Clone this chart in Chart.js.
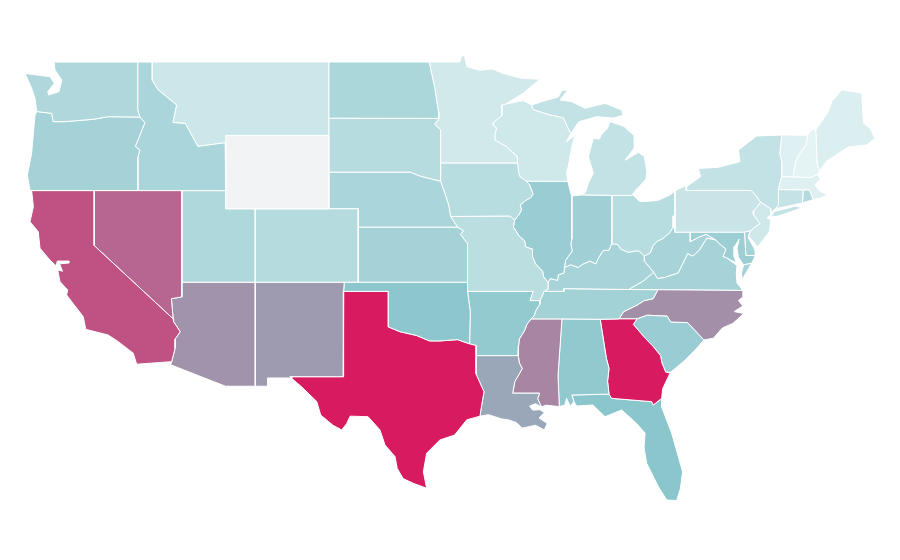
<!DOCTYPE html>
<html>
<head>
<meta charset="utf-8">
<style>html,body{margin:0;padding:0;background:#fff}canvas{display:block}</style>
<script src="https://cdn.jsdelivr.net/npm/chart.js@4/dist/chart.umd.min.js"></script>
</head>
<body>
<canvas id="map" width="900" height="560"></canvas>
<script>
// Shaded value per state (0 = lightest, 100 = deepest)
const stateNames = ["Washington","Oregon","California","Nevada","Idaho","Montana","Wyoming","Utah","Arizona","Colorado","New Mexico","North Dakota","South Dakota","Nebraska","Kansas","Oklahoma","Texas","Minnesota","Iowa","Missouri","Arkansas","Louisiana","Wisconsin","Illinois","Michigan","Indiana","Ohio","Kentucky","Tennessee","Mississippi","Alabama","Georgia","Florida","South Carolina","North Carolina","Virginia","West Virginia","Maryland","Delaware","Pennsylvania","New Jersey","New York","Connecticut","Rhode Island","Massachusetts","Vermont","New Hampshire","Maine"];
const stateValues = [32,38,84,78,35,18,0,32.5,65,29,62.6,34.5,28.6,35,37.9,49,100,15.5,28,26.7,46,59,17,42.7,22.8,39.8,28,36,38.8,69,47,100,50,42.7,66,36.9,35.9,41.7,37,20.4,17,22.8,21.8,30,8.7,8.7,6.3,10.7];

const rev = a => [...a].reverse();

// Shared borders as [longitude, latitude]
const wiMn = [[-92.02,46.71],[-92.29,46.66],[-92.29,46.07],[-92.87,45.7],[-92.88,45.57],[-92.65,45.4],[-92.76,45.0],[-92.75,44.74],[-92.0,44.4],[-91.25,43.85],[-91.22,43.5]];
const iaWi = [[-91.22,43.5],[-91.15,43.0],[-91.06,42.75],[-90.64,42.51]];
const iaIl = [[-90.64,42.51],[-90.42,42.33],[-90.16,41.8],[-90.34,41.6],[-90.66,41.46],[-91.05,41.2],[-90.95,40.95],[-91.1,40.7],[-91.42,40.38]];
const moIl = [[-91.42,40.38],[-91.5,40.0],[-91.1,39.5],[-90.73,39.25],[-90.68,38.93],[-90.2,38.8],[-90.2,38.4],[-90.0,38.0],[-89.52,37.6],[-89.45,37.3],[-89.15,36.98]];
const moTn = [[-89.15,36.98],[-89.2,36.6],[-89.42,36.5],[-89.55,36.25],[-89.7,36.0]];
const arTn = [[-89.7,36.0],[-89.7,35.8],[-89.95,35.5],[-90.1,35.15],[-90.3,35.0]];
const arMs = [[-90.3,35.0],[-90.58,34.7],[-90.75,34.35],[-91.1,33.9],[-91.15,33.5],[-91.17,33.0]];
const laMs = [[-91.17,33.0],[-91.1,32.6],[-90.9,32.3],[-91.1,32.0],[-91.4,31.6],[-91.55,30.95],[-89.73,30.95],[-89.85,30.65],[-89.6,30.2]];
const ilKy = [[-89.15,36.98],[-89.0,37.2],[-88.5,37.1],[-88.45,37.4],[-88.07,37.5],[-88.03,37.8]];
const inKy = [[-88.03,37.8],[-87.6,37.95],[-87.1,37.8],[-86.8,37.98],[-86.3,38.15],[-85.9,38.0],[-85.75,38.27],[-85.42,38.72],[-85.0,38.75],[-84.82,39.1]];
const ohKy = [[-84.82,39.1],[-84.4,39.05],[-84.2,38.8],[-83.7,38.63],[-83.0,38.72],[-82.6,38.42]];
const ohWv = [[-82.6,38.42],[-82.2,38.6],[-82.0,39.0],[-81.7,39.25],[-81.4,39.35],[-80.87,39.7],[-80.65,40.0],[-80.6,40.62],[-80.52,40.64]];
const kyWv = [[-82.6,38.42],[-82.6,38.15],[-81.97,37.54]];
const kyVa = [[-81.97,37.54],[-82.7,37.05],[-83.68,36.6]];
const ilIn = [[-87.53,41.7],[-87.53,39.35],[-87.6,39.1],[-87.5,38.7],[-87.95,38.2],[-88.03,37.8]];
const vaWv = [[-77.75,39.3],[-78.35,39.4],[-78.85,38.75],[-79.3,38.42],[-79.65,38.55],[-80.3,37.5],[-81.25,37.25],[-81.7,37.2],[-81.97,37.54]];
const mdVa = [[-76.95,38.3],[-77.25,38.4],[-77.05,38.8],[-77.5,39.1],[-77.75,39.3]];
const tnNc = [[-81.68,36.59],[-82.0,36.1],[-82.6,36.0],[-83.1,35.75],[-84.0,35.4],[-84.32,35.0]];
const ncSc = [[-83.1,35.0],[-82.4,35.2],[-81.05,35.15],[-80.8,34.82],[-79.67,34.8],[-78.55,33.85]];
const gaSc = [[-81.15,32.1],[-81.4,32.6],[-81.5,33.0],[-82.0,33.5],[-82.6,34.0],[-83.35,34.7],[-83.1,35.0]];
const alGa = [[-85.6,34.98],[-85.18,32.85],[-85.0,32.3],[-85.1,31.6],[-85.0,30.9]];
const okTx = [[-100,34.56],[-99.2,34.3],[-98.1,34.1],[-97.2,33.8],[-96.5,33.8],[-95.3,33.87],[-94.48,33.64]];
const laTx = [[-94.04,33.0],[-94.04,32.0],[-93.5,31.03],[-93.7,30.1],[-93.77,29.7]];
const idMt = [[-116.05,49],[-116.05,48.0],[-115.67,47.5],[-114.4,46.66],[-114.65,45.7],[-113.8,45.65],[-112.95,44.4],[-111.1,44.6],[-111.05,44.5]];
const idOr = [[-116.9,46.0],[-116.55,45.7],[-117.2,44.4],[-116.9,44.2],[-117.03,43.8],[-117.03,42]];
const orWa = [[-124.02,46.1],[-123.9,46.3],[-122.89,46.2],[-122.78,45.75],[-121.98,45.75],[-120.06,45.88],[-119.04,46.02],[-116.9,46.0]];
const azCa = [[-114.63,35],[-114.6,34.85],[-114.15,34.3],[-114.5,33.9],[-114.5,33.4],[-114.73,32.67]];
const neIa = [[-96.45,42.5],[-96.1,41.7],[-95.9,41.2],[-95.77,40.58]];
const neMo = [[-95.77,40.58],[-95.3,40.0]];
const ksMo = [[-95.3,40.0],[-94.9,39.8],[-95.1,39.6],[-94.62,39.1],[-94.62,37]];
const nyPa = [[-75.35,42.0],[-75.05,41.75],[-74.7,41.36]];
const paNj = [[-74.7,41.36],[-75.15,40.9],[-75.2,40.7],[-74.75,40.2],[-75.4,39.8]];
const vtNh = [[-71.5,45.01],[-71.6,44.5],[-72.05,44.0],[-72.3,43.6],[-72.45,43.0],[-72.46,42.73]];

// State outlines as [longitude, latitude]
const Washington = [[[-122.73,49],[-122.66,48.56],[-122.2,48.02],[-122.39,47.38],[-123.1,47.2],[-123.15,47.38],[-122.71,47.84],[-123.0,48.2],[-124.7,48.38],[-124.25,47.57],[-124.02,47.02],...orWa.slice(1),[-117.04,46.4],[-117.04,49]]];
const Oregon = [[...orWa,...idOr,[-124.36,42.0],[-124.54,42.84],[-124.25,44.03]]];
const California = [[[-124.25,41.99],[-120,41.99],[-120,39],...azCa,[-117.11,32.53],[-117.34,33.13],[-118.36,33.76],[-119.04,34.12],[-120.57,34.43],[-120.74,35.12],[-121.87,36.3],[-121.8,36.58],[-122.32,37.03],[-122.48,37.66],[-122.15,37.6],[-122.35,38.0],[-121.7,38.05],[-121.7,38.15],[-122.5,38.15],[-122.6,37.9],[-123.0,38.2],[-123.68,38.85],[-123.8,39.75],[-124.36,40.3],[-124.13,41.12]]];
const Nevada = [[[-120,41.99],[-114.04,41.99],[-114.04,36.2],[-114.75,36.1],[-114.63,35],[-120,39]]];
const Idaho = [[[-117.04,49],...idMt,[-111.05,41.99],...rev(idOr),[-117.04,46.4]]];
const Montana = [[...idMt.slice(0,-1),[-111.05,45],[-104.05,45],[-104.05,49]]];
const Wyoming = [[[-111.05,45],[-104.05,45],[-104.05,41],[-111.05,41]]];
const Utah = [[[-114.04,41.99],[-111.05,41.99],[-111.05,41],[-109.05,41],[-109.05,37],[-114.04,37]]];
const Arizona = [[[-114.04,37],[-109.05,37],[-109.05,31.33],[-111.07,31.33],[-114.8,32.5],...rev(azCa),[-114.75,36.1],[-114.04,36.2]]];
const Colorado = [[[-109.05,41],[-102.05,41],[-102.05,37],[-109.05,37]]];
const NewMexico = [[[-109.05,37],[-103.0,37],[-103.04,36.5],[-103.06,31.85],[-106.7,31.85],[-106.5,31.78],[-108.2,31.78],[-108.2,31.33],[-109.05,31.33]]];
const NorthDakota = [[[-104.05,49],[-97.23,49],[-96.85,47.6],[-96.6,46.3],[-96.56,45.93],[-104.05,45.94]]];
const SouthDakota = [[[-104.05,45.94],[-96.56,45.93],[-96.85,45.6],[-96.45,45.3],[-96.45,42.5],[-97.9,42.8],[-98.5,43.0],[-104.05,43.0]]];
const Nebraska = [[[-104.05,43],[-98.5,43],[-97.9,42.8],...neIa,...neMo,[-102.05,40.0],[-102.05,41.0],[-104.05,41.0]]];
const Kansas = [[[-102.05,40],...ksMo,[-102.05,37]]];
const Oklahoma = [[[-103.0,37],[-94.62,37],[-94.62,36.5],[-94.43,35.4],...rev(okTx),[-100,36.5],[-103.04,36.5]]];
const Texas = [[[-103.04,36.5],[-100,36.5],...okTx,[-94.04,33.55],...laTx,[-94.67,29.5],[-95.5,28.67],[-96.5,28.4],[-97.4,27.68],[-97.62,26.67],[-97.4,25.77],[-98.3,26.04],[-99.0,26.3],[-99.4,26.86],[-99.55,27.5],[-100.23,28.13],[-100.57,28.95],[-101.38,29.67],[-102.6,29.7],[-102.83,29.3],[-103.17,28.95],[-103.76,29.2],[-104.6,29.76],[-104.87,30.5],[-105.9,31.3],[-106.7,31.85],[-103.06,31.85]]];
const Minnesota = [[[-97.23,49.0],[-95.15,49.0],[-95.0,49.38],[-94.8,49.3],[-94.67,48.75],[-93.8,48.55],[-92.95,48.62],[-92.2,48.38],[-90.94,48.11],[-89.7,48.06],[-90.84,47.3],...wiMn,[-96.45,43.5],[-96.45,45.3],[-96.85,45.6],[-96.56,45.93],[-96.6,46.3],[-96.85,47.6]]];
const Iowa = [[[-96.45,43.5],...iaWi,...iaIl,[-91.73,40.61],...rev(neIa)]];
const Missouri = [[...neMo,...ksMo,[-94.62,36.5],[-90.15,36.5],[-90.37,36.0],...rev(moTn),...rev(moIl),[-91.73,40.61]]];
const Arkansas = [[[-94.62,36.5],[-90.15,36.5],[-90.37,36.0],...arTn,...arMs,[-94.04,33.0],[-94.04,33.55],[-94.48,33.64],[-94.43,35.4]]];
const Louisiana = [[[-94.04,33.0],...laMs,[-90.0,30.38],[-90.4,30.25],[-90.2,30.03],[-89.7,30.05],[-89.4,29.9],[-89.75,29.6],[-89.2,29.3],[-89.4,28.95],[-90.0,29.2],[-90.9,29.05],[-91.3,29.35],[-91.85,29.5],[-92.3,29.55],[-93.2,29.78],...rev(laTx)]];
const Wisconsin = [[[-92.02,46.71],[-90.84,46.9],[-90.26,46.66],[-90.16,46.4],[-89.1,46.13],[-88.1,45.95],[-87.77,45.35],[-87.6,45.1],[-87.88,44.66],[-87.4,44.95],[-87.2,45.3],[-87.53,44.39],[-87.77,43.3],[-87.9,43.0],[-87.8,42.49],[-90.64,42.51],...rev(iaWi),...rev(wiMn)]];
const Illinois = [[[-90.64,42.51],[-87.8,42.49],[-87.6,41.85],...ilIn,...rev(ilKy),...rev(moIl),...rev(iaIl)]];
const MichiganUpper = [[-90.26,46.66],[-89.57,46.84],[-88.45,47.1],[-88.2,47.45],[-87.8,47.47],[-88.33,46.93],[-87.54,46.84],[-86.63,46.48],[-85.27,46.75],[-84.14,46.38],[-84.05,46.1],[-84.7,45.95],[-85.84,46.02],[-86.63,45.84],[-87.05,45.75],[-87.6,45.1],[-87.77,45.35],[-88.1,45.95],[-89.1,46.13],[-90.16,46.4]];
const MichiganLower = [[-86.8,41.76],[-84.8,41.73],[-83.45,41.73],[-83.15,42.05],[-82.5,42.6],[-82.42,43.0],[-82.6,43.85],[-83.0,44.07],[-83.9,43.65],[-83.3,44.3],[-83.3,45.0],[-84.0,45.5],[-84.93,45.75],[-85.1,45.4],[-85.55,45.0],[-85.65,44.8],[-86.07,44.84],[-86.4,43.84],[-86.07,42.94],[-86.4,42.4],[-86.6,41.9]];
const Michigan = [MichiganUpper, MichiganLower];
const Indiana = [[...ilIn.slice(0,1),[-86.8,41.76],[-84.8,41.73],...rev(inKy),...rev(ilIn).slice(1,-1)]];
const Ohio = [[[-84.8,41.73],[-83.37,41.75],[-82.9,41.39],[-81.7,41.45],[-80.85,41.75],[-80.52,41.98],[-80.52,40.64],...rev(ohWv),...rev(ohKy)]];
const Kentucky = [[...ilKy,...inKy,...ohKy,...kyWv,...kyVa,[-88.07,36.65],[-88.07,36.5],[-89.42,36.5],[-89.2,36.6]]];
const Tennessee = [[[-89.42,36.5],[-88.07,36.5],[-88.07,36.65],[-83.68,36.6],...tnNc,[-85.6,34.98],[-88.2,35.0],...rev(arTn),[-89.55,36.25]]];
const Mississippi = [[...arMs.slice(0,1),[-88.2,35.0],[-88.47,31.9],[-88.38,30.22],[-89.3,30.3],...rev(laMs),...rev(arMs).slice(1,-1)]];
const Alabama = [[[-88.2,35.0],...alGa,[-87.53,30.85],[-87.38,30.49],[-87.65,30.25],[-87.88,30.67],[-88.0,30.31],[-88.38,30.22],[-88.47,31.9]]];
const Georgia = [[...alGa.slice(0,1),[-84.32,35.0],...rev(gaSc),[-80.85,32.05],[-81.35,31.2],[-81.42,30.67],[-81.99,30.31],[-82.1,30.49],[-84.82,30.67],...rev(alGa).slice(0,-1)]];
const Florida = [[[-87.53,30.85],[-85.0,30.9],[-84.82,30.67],[-82.1,30.49],[-81.99,30.31],[-81.42,30.67],[-81.42,30.2],[-80.74,28.77],[-80.0,26.67],[-80.15,25.75],[-80.4,25.1],[-81.08,25.13],[-81.65,25.86],[-82.44,27.13],[-82.62,27.97],[-82.55,28.77],[-83.12,29.3],[-84.14,30.04],[-85.27,29.67],[-86.1,30.31],[-87.2,30.25],[-87.38,30.49]]];
const SouthCarolina = [[...ncSc,[-79.15,33.3],[-79.9,32.7],[-80.8,32.1],...gaSc]];
const NorthCarolina = [[[-84.32,35.0],[-83.1,35.0],...ncSc.slice(1),[-77.9,33.95],[-77.3,34.5],[-76.6,34.75],[-76.3,34.95],[-75.85,35.3],[-76.5,35.4],[-75.9,35.7],[-76.2,36.0],[-75.9,36.2],[-75.9,36.55],[-81.68,36.59],...tnNc.slice(0,-1)]];
const Virginia = [[[-83.68,36.6],[-81.68,36.59],[-75.9,36.55],[-76.3,36.95],[-76.35,37.5],[-76.3,37.9],...mdVa,...vaWv,...kyVa.slice(1,-1)],[[-75.85,37.95],[-75.3,38.03],[-75.95,37.15],[-76.0,37.5]]];
const WestVirginia = [[[-80.52,40.64],[-80.52,39.72],[-79.48,39.72],[-79.48,39.2],[-78.9,39.45],[-78.4,39.6],...vaWv,...kyWv.slice(0,-1).reverse(),...ohWv.slice(1,-1)]];
const Maryland = [[[-79.48,39.72],[-75.79,39.72],[-75.7,38.46],[-75.05,38.45],[-75.3,38.03],[-75.85,37.95],[-76.2,38.35],[-76.3,38.85],[-76.15,39.35],[-76.45,38.95],[-76.5,38.4],[-76.35,38.05],...mdVa,[-78.4,39.6],[-78.9,39.45],[-79.48,39.2]]];
const Delaware = [[[-75.79,39.72],[-75.4,39.8],[-75.55,39.45],[-75.1,38.8],[-75.05,38.45],[-75.7,38.46]]];
const Pennsylvania = [[[-80.52,41.98],[-79.76,42.27],[-79.76,42.0],...nyPa,...paNj,[-75.79,39.72],[-80.52,39.72]]];
const NewJersey = [[[-74.7,41.36],[-74.0,41.0],[-74.0,40.7],[-74.25,40.5],[-74.0,40.4],[-74.1,39.75],[-74.9,38.93],[-75.5,39.5],...rev(paNj).slice(0,-1)]];
const NewYork = [[[-79.68,42.24],[-78.77,42.75],[-78.93,43.2],[-77.57,43.26],[-76.1,43.57],[-76.2,44.2],[-74.96,44.97],[-73.26,45.02],[-73.4,44.0],[-73.25,43.55],[-73.27,42.75],[-73.5,42.05],[-73.48,41.2],[-73.7,41.0],[-74.0,40.75],[-74.0,41.0],...rev(nyPa),[-79.76,42.0]],[[-74.0,40.6],[-73.75,40.85],[-72.3,41.15],[-71.9,41.05],[-73.6,40.58]]];
const Connecticut = [[[-73.5,42.05],[-71.8,42.02],[-71.85,41.32],[-73.7,41.0],[-73.48,41.2]]];
const RhodeIsland = [[[-71.8,42.02],[-71.38,42.02],[-71.12,41.5],[-71.85,41.32]]];
const Massachusetts = [[[-73.5,42.05],[-73.27,42.75],[-72.46,42.73],[-71.3,42.7],[-70.82,42.87],[-70.65,42.6],[-71.0,42.3],[-70.65,41.95],[-70.2,41.8],[-70.0,41.8],[-70.45,41.66],[-70.6,41.6],[-71.12,41.5],[-71.38,42.02],[-71.8,42.02]]];
const Vermont = [[[-73.26,45.02],...vtNh,[-73.27,42.75],[-73.25,43.55],[-73.4,44.0]]];
const NewHampshire = [[[-71.2,45.3],[-70.95,45.3],[-70.85,43.4],[-70.7,43.07],[-70.82,42.87],[-71.3,42.7],...rev(vtNh)]];
const Maine = [[[-70.95,45.3],[-70.09,46.3],[-69.86,46.84],[-69.18,47.48],[-67.82,47.3],[-67.7,45.66],[-67.26,45.39],[-66.92,44.84],[-67.48,44.48],[-68.73,44.37],[-69.75,43.84],[-70.2,43.6],[-70.7,43.07],[-70.85,43.4]]];

const stateOutlines = [Washington,Oregon,California,Nevada,Idaho,Montana,Wyoming,Utah,Arizona,Colorado,NewMexico,NorthDakota,SouthDakota,Nebraska,Kansas,Oklahoma,Texas,Minnesota,Iowa,Missouri,Arkansas,Louisiana,Wisconsin,Illinois,Michigan,Indiana,Ohio,Kentucky,Tennessee,Mississippi,Alabama,Georgia,Florida,SouthCarolina,NorthCarolina,Virginia,WestVirginia,Maryland,Delaware,Pennsylvania,NewJersey,NewYork,Connecticut,RhodeIsland,Massachusetts,Vermont,NewHampshire,Maine];

// Colour scale: 0 pale grey, then pale cyan to teal at 50, then crimson at 100
const rampStops = [[0,242,243,245],[6,229,243,244],[50,139,198,204],[100,216,27,96]];
function shade(v){
  let k = 0;
  while (k < rampStops.length-2 && v > rampStops[k+1][0]) k++;
  const a = rampStops[k], b = rampStops[k+1];
  const t = (v-a[0])/(b[0]-a[0]);
  const c = [1,2,3].map(i => Math.round(a[i]+(b[i]-a[i])*t));
  return `rgb(${c[0]},${c[1]},${c[2]})`;
}

const datasets = [];
stateOutlines.forEach((rings,i) => {
  rings.forEach(ring => {
    datasets.push({
      label: stateNames[i],
      data: [...ring, ring[0]].map(([x,y]) => ({x,y})),
      showLine: true,
      fill: 'shape',
      backgroundColor: shade(stateValues[i]),
      borderColor: '#ffffff',
      borderWidth: 1,
      pointRadius: 0,
      pointHoverRadius: 0,
      tension: 0,
      clip: false
    });
  });
});

new Chart(document.getElementById('map'), {
  type: 'scatter',
  data: { datasets },
  options: {
    responsive: false,
    animation: false,
    devicePixelRatio: 1,
    layout: { padding: 0 },
    plugins: { legend: { display: false }, title: { display: false }, tooltip: { enabled: false } },
    scales: {
      x: { type: 'linear', display: false, min: -126.4, max: -65.22 },
      y: { type: 'linear', display: false, min: 21.86, max: 52.38 }
    }
  }
});
</script>
</body>
</html>
